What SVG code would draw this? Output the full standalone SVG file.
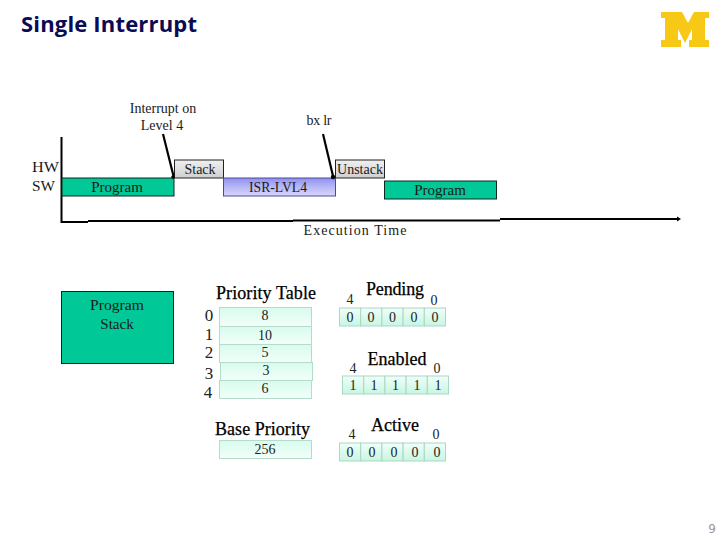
<svg xmlns="http://www.w3.org/2000/svg" width="720" height="540" viewBox="0 0 720 540">
<defs>
<linearGradient id="lav" x1="0" y1="0" x2="0" y2="1"><stop offset="0" stop-color="#8f8ff0"/><stop offset="0.45" stop-color="#b4b4f6"/><stop offset="1" stop-color="#d6d6fb"/></linearGradient>
<linearGradient id="gry" x1="0" y1="0" x2="0" y2="1"><stop offset="0" stop-color="#f0f0f0"/><stop offset="1" stop-color="#cfcfcf"/></linearGradient>
<linearGradient id="mint" x1="0" y1="0" x2="0" y2="1"><stop offset="0" stop-color="#d8fbec"/><stop offset="1" stop-color="#f2fffa"/></linearGradient>
<linearGradient id="mint2" x1="0" y1="0" x2="0" y2="1"><stop offset="0" stop-color="#f0fff9"/><stop offset="1" stop-color="#c8f5e2"/></linearGradient>
</defs>
<style>
text{font-family:"Liberation Serif",serif;fill:#1a1a1a;text-anchor:middle}
.s15{font-size:15px}
.s14{font-size:14px}
.h{font-size:18px;fill:#000;stroke:#000;stroke-width:0.25}
.n{font-size:14px;fill:#222}
.t{font-size:14px;fill:#222}
.idx{font-size:17px;fill:#222}
.g{fill:#00c896;stroke:#0a2a20;stroke-width:1}
.l{fill:url(#lav);stroke:#4a4a9a;stroke-width:1}
.y{fill:url(#gry);stroke:#222;stroke-width:1}
.m{fill:url(#mint);stroke:#b5dccb;stroke-width:1}
.b{fill:url(#mint2);stroke:#a9d8c3;stroke-width:1}
.ax{stroke:#000;stroke-width:2;fill:none}
.ar{stroke:#000;stroke-width:2.200;fill:none}
</style>
<rect width="720" height="540" fill="#fff"/>
<text id="title" x="21" y="32" style="font-family:'Open Sans',sans-serif;font-weight:700;font-size:22px;fill:#0a0a55;text-anchor:start" textLength="176" lengthAdjust="spacing">Single Interrupt</text>
<path id="logo" d="M661 12H682L688 23L694 12H709V18H705V40H709V47H689V40H692V29L685 43L678 29V40H681V47H661V40H665V18H661Z" fill="#f7c815"/>
<g id="labels">
<text class="s14" x="163" y="113">Interrupt on</text>
<text class="s14" x="162" y="130">Level 4</text>
<text class="s14" x="319" y="125" textLength="25">bx lr</text>
<text class="s15" x="45.500" y="172" textLength="27" lengthAdjust="spacingAndGlyphs">HW</text>
<text class="s15" x="43.500" y="191" textLength="23" lengthAdjust="spacingAndGlyphs">SW</text>
<text class="s14" x="355" y="235" textLength="103">Execution Time</text>
</g>
<g id="axes">
<path class="ax" d="M61.500 137V222H88"/>
<path class="ax" d="M88 221H293"/>
<path class="ax" d="M293 220.500H500"/>
<path class="ax" d="M500 219H678"/>
<path d="M677 216.500L681 219L677 221.500Z" fill="#000"/>
</g>
<g id="node-program1"><rect class="g" x="62" y="178" width="112" height="18"/><text class="s15" x="117" y="192">Program</text></g>
<g id="node-stack"><rect class="y" x="174.500" y="160" width="49" height="18"/><text class="s14" x="200" y="174" textLength="31">Stack</text></g>
<g id="node-isr"><rect class="l" x="223.500" y="178" width="112" height="18"/><text class="s14" x="278" y="192" textLength="58" lengthAdjust="spacingAndGlyphs">ISR-LVL4</text></g>
<g id="node-unstack"><rect class="y" x="335.500" y="160" width="49" height="18"/><text class="s14" x="360" y="174" textLength="46" lengthAdjust="spacingAndGlyphs">Unstack</text></g>
<g id="node-program2"><rect class="g" x="384.500" y="181" width="112" height="18"/><text class="s15" x="440" y="195">Program</text></g>
<g id="connectors">
<path class="ar" d="M163 134L173.500 176"/><circle cx="173" cy="177" r="1.800"/>
<path class="ar" d="M323 134L333 176"/><circle cx="333" cy="177" r="2.200"/>
</g>
<g id="node-program-stack"><rect class="g" x="61.500" y="291.500" width="112" height="72"/>
<text class="s15" x="117" y="310" textLength="54" lengthAdjust="spacingAndGlyphs">Program</text><text class="s15" x="117" y="329">Stack</text></g>
<g id="priority-table">
<text class="h" x="266" y="299" textLength="100">Priority Table</text>
<text class="idx" x="209" y="321">0</text><text class="idx" x="209" y="340">1</text><text class="idx" x="209" y="358">2</text><text class="idx" x="209" y="379">3</text><text class="idx" x="208" y="398">4</text>
<rect class="m" x="219.500" y="307.500" width="92" height="19"/><text class="n" x="265" y="320">8</text>
<rect class="m" x="219.500" y="326.500" width="92" height="18"/><text class="n" x="265" y="340">10</text>
<rect class="m" x="219.500" y="344.500" width="92" height="18"/><text class="n" x="265" y="357">5</text>
<rect class="m" x="220.500" y="362.500" width="92" height="18"/><text class="n" x="266" y="375">3</text>
<rect class="m" x="219.500" y="380.500" width="92" height="18"/><text class="n" x="265" y="393">6</text>
</g>
<g id="base-priority">
<text class="h" x="262.500" y="435" textLength="95">Base Priority</text>
<rect class="m" x="219.500" y="440.500" width="92" height="18"/><text class="n" x="265" y="454">256</text>
</g>
<g id="pending">
<text class="h" x="395" y="295" textLength="58">Pending</text>
<text class="t" x="350" y="304">4</text><text class="t" x="434" y="305">0</text>
<rect class="b" x="339.500" y="308" width="21.200" height="18"/><rect class="b" x="360.700" y="308" width="21.200" height="18"/><rect class="b" x="381.900" y="308" width="21.200" height="18"/><rect class="b" x="403.100" y="308" width="21.200" height="18"/><rect class="b" x="424.300" y="308" width="21.200" height="18"/>
<text class="n" x="350" y="322">0</text><text class="n" x="371" y="322">0</text><text class="n" x="392.500" y="322">0</text><text class="n" x="414" y="322">0</text><text class="n" x="435" y="322">0</text>
</g>
<g id="enabled">
<text class="h" x="397" y="365" textLength="59">Enabled</text>
<text class="t" x="353" y="373">4</text><text class="t" x="437" y="373">0</text>
<rect class="b" x="342.500" y="376" width="21.200" height="18"/><rect class="b" x="363.700" y="376" width="21.200" height="18"/><rect class="b" x="384.900" y="376" width="21.200" height="18"/><rect class="b" x="406.100" y="376" width="21.200" height="18"/><rect class="b" x="427.300" y="376" width="21.200" height="18"/>
<text class="n" x="353" y="390">1</text><text class="n" x="374" y="390">1</text><text class="n" x="395.500" y="390">1</text><text class="n" x="417" y="390">1</text><text class="n" x="438" y="390">1</text>
</g>
<g id="active">
<text class="h" x="395" y="431" textLength="48">Active</text>
<text class="t" x="352" y="439">4</text><text class="t" x="436" y="439">0</text>
<rect class="b" x="339.500" y="443" width="21.200" height="18"/><rect class="b" x="360.700" y="443" width="21.200" height="18"/><rect class="b" x="381.900" y="443" width="21.200" height="18"/><rect class="b" x="403.100" y="443" width="21.200" height="18"/><rect class="b" x="424.300" y="443" width="21.200" height="18"/>
<text class="n" x="350" y="457">0</text><text class="n" x="372" y="457">0</text><text class="n" x="394" y="457">0</text><text class="n" x="415" y="457">0</text><text class="n" x="437" y="457">0</text>
</g>
<text id="page" x="712" y="533" style="font-family:'DejaVu Sans',sans-serif;font-size:12px;fill:#999">9</text>
</svg>
